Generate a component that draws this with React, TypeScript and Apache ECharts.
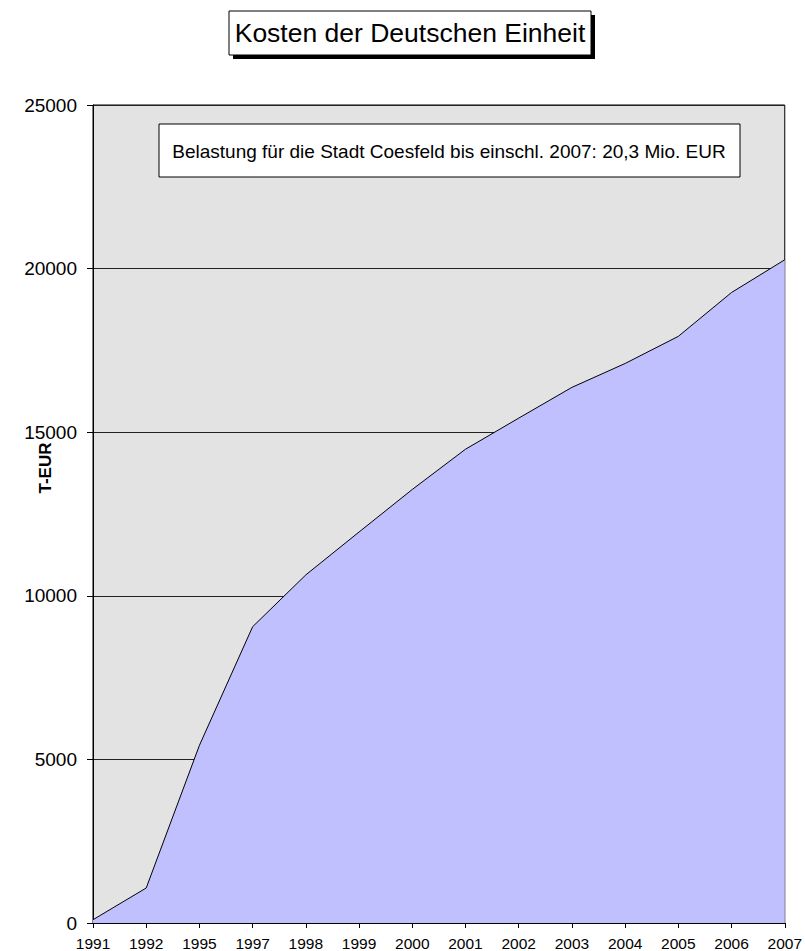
import React, { useEffect, useRef } from "react";
import * as echarts from "echarts";

const years = ["1991", "1992", "1995", "1997", "1998", "1999", "2000", "2001", "2002", "2003", "2004", "2005", "2006", "2007"];
const costs = [100, 1070, 5430, 9055, 10640, 11950, 13250, 14480, 15430, 16370, 17100, 17930, 19270, 20270];
const chartTitle = "Kosten der Deutschen Einheit";
const note = "Belastung für die Stadt Coesfeld bis einschl. 2007: 20,3 Mio. EUR";
const yName = "T-EUR";

const FONT = "'Liberation Sans', Arial, Helvetica, sans-serif";

export default function App() {
  const ref = useRef<HTMLDivElement>(null);
  useEffect(() => {
    if (!ref.current) return;
    const chart = echarts.init(ref.current, null, { renderer: "svg" });
    chart.setOption({
      animation: false,
      backgroundColor: "#ffffff",
      textStyle: { fontFamily: FONT },
      grid: {
        left: 93,
        top: 105,
        width: 695,
        height: 820,
        show: true,
        backgroundColor: "#e3e3e3",
        borderColor: "#000",
        borderWidth: 1,
      },
      xAxis: {
        type: "category",
        data: years,
        boundaryGap: false,
        axisLine: { show: true, lineStyle: { color: "#000", width: 1 } },
        axisTick: { show: true, alignWithLabel: true, length: 5, lineStyle: { color: "#000" } },
        axisLabel: { color: "#000", fontSize: 15.5, fontFamily: FONT, margin: 12, interval: 0 },
        splitLine: { show: false },
      },
      yAxis: {
        type: "value",
        min: 0,
        max: 25000,
        interval: 5000,
        axisLine: { show: true, lineStyle: { color: "#000", width: 1 } },
        axisTick: { show: true, length: 6, lineStyle: { color: "#000" } },
        axisLabel: { color: "#000", fontSize: 19, fontFamily: FONT, margin: 16, formatter: (v: number) => String(v) },
        splitLine: { show: true, lineStyle: { color: "#222", width: 1 } },
      },
      series: [
        {
          type: "line",
          data: costs,
          showSymbol: false,
          symbol: "none",
          lineStyle: { color: "#000", width: 1 },
          areaStyle: { color: "#c0c0ff", opacity: 1 },
          z: 3,
        },
      ],
      graphic: [
        { type: "rect", shape: { x: 233, y: 15, width: 362, height: 44 }, style: { fill: "#000" }, z: 10 },
        { type: "rect", shape: { x: 229, y: 11, width: 362, height: 44 }, style: { fill: "#fff", stroke: "#000", lineWidth: 1 }, z: 11 },
        {
          type: "text",
          x: 410,
          y: 33,
          z: 12,
          style: { text: chartTitle, font: `26.5px ${FONT}`, fill: "#000", align: "center", verticalAlign: "middle" },
        },
        { type: "rect", shape: { x: 159, y: 124, width: 581, height: 53 }, style: { fill: "#fff", stroke: "#000", lineWidth: 1 }, z: 11 },
        {
          type: "text",
          x: 449,
          y: 151,
          z: 12,
          style: { text: note, font: `19px ${FONT}`, fill: "#000", align: "center", verticalAlign: "middle" },
        },
        {
          type: "text",
          x: 45,
          y: 468,
          rotation: Math.PI / 2,
          z: 12,
          style: { text: yName, font: `bold 17px ${FONT}`, fill: "#000", align: "center", verticalAlign: "middle" },
        },
      ],
    });
    return () => chart.dispose();
  }, []);
  return <div ref={ref} style={{ position: "absolute", left: 0, top: 0, width: 805, height: 951 }} />;
}
